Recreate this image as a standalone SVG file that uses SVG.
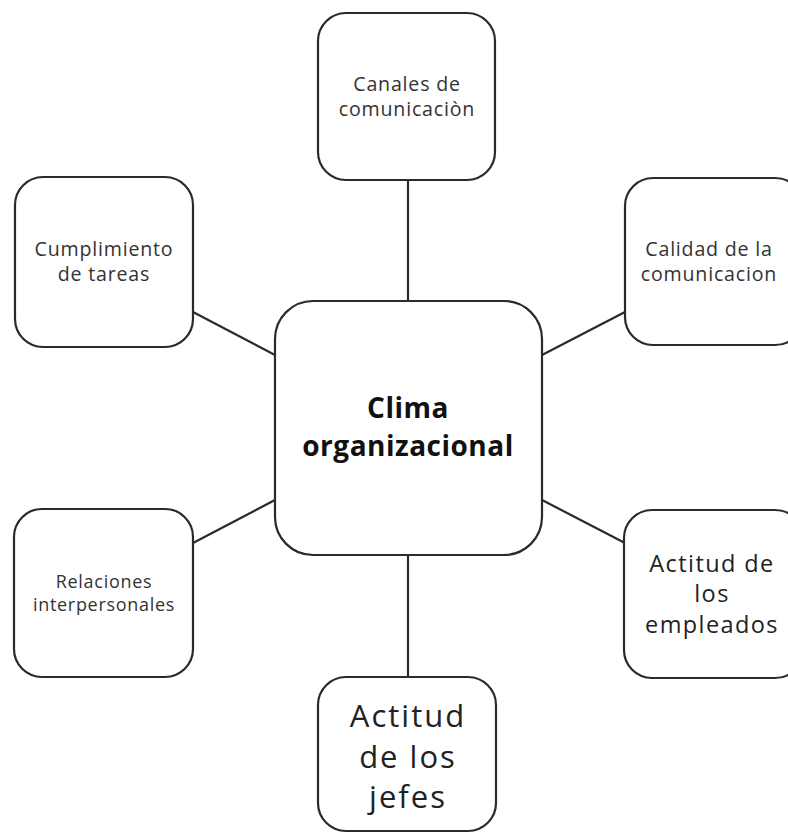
<svg xmlns="http://www.w3.org/2000/svg" width="788" height="836" viewBox="0 0 788 836">
<style>
.box{fill:#ffffff;stroke:#2a2a2a;stroke-width:2.2}
.line{stroke:#2a2a2a;stroke-width:2.2;fill:none}
text{font-family:"Open Sans","Noto Sans","DejaVu Sans",sans-serif;text-anchor:middle;fill:#333333}
.s{font-size:19.6px;letter-spacing:0.8px}
.xs{font-size:18px;letter-spacing:0.7px}
.m{font-size:23.5px;letter-spacing:1.4px;fill:#222}
.l{font-size:31px;letter-spacing:2px;fill:#222}
.c{font-size:28px;letter-spacing:0.5px;font-weight:bold;fill:#111}
</style>
<rect width="788" height="836" fill="#ffffff"/>
<g id="connectors">
<line class="line" x1="408" y1="180" x2="408" y2="301"/>
<line class="line" x1="408" y1="555" x2="408" y2="677"/>
<line class="line" x1="193" y1="312" x2="275" y2="355"/>
<line class="line" x1="542" y1="355" x2="625" y2="312"/>
<line class="line" x1="193" y1="543" x2="275" y2="500"/>
<line class="line" x1="542" y1="500" x2="625" y2="543"/>
</g>
<g id="canales">
<rect class="box" x="318" y="13" width="177" height="167" rx="28"/>
<text class="s" x="407" y="91">Canales de</text>
<text class="s" x="407" y="116">comunicaciòn</text>
</g>
<g id="cumplimiento">
<rect class="box" x="15" y="177" width="178" height="170" rx="28"/>
<text class="s" x="104" y="256">Cumplimiento</text>
<text class="s" x="104" y="281">de tareas</text>
</g>
<g id="calidad">
<rect class="box" x="625" y="178" width="178" height="167" rx="28"/>
<text class="s" x="709" y="256">Calidad de la</text>
<text class="s" x="709" y="281">comunicacion</text>
</g>
<g id="clima">
<rect class="box" x="275" y="301" width="267" height="254" rx="38"/>
<text class="c" x="408" y="418">Clima</text>
<text class="c" x="408" y="456">organizacional</text>
</g>
<g id="relaciones">
<rect class="box" x="14" y="509" width="179" height="168" rx="28"/>
<text class="xs" x="104" y="588">Relaciones</text>
<text class="xs" x="104" y="611">interpersonales</text>
</g>
<g id="empleados">
<rect class="box" x="624" y="510" width="179" height="168" rx="28"/>
<text class="m" x="712" y="571.5">Actitud de</text>
<text class="m" x="712" y="602">los</text>
<text class="m" x="712" y="632.5">empleados</text>
</g>
<g id="jefes">
<rect class="box" x="318" y="677" width="178" height="154" rx="28"/>
<text class="l" x="408" y="727">Actitud</text>
<text class="l" x="408" y="767.5">de los</text>
<text class="l" x="408" y="808">jefes</text>
</g>
</svg>
